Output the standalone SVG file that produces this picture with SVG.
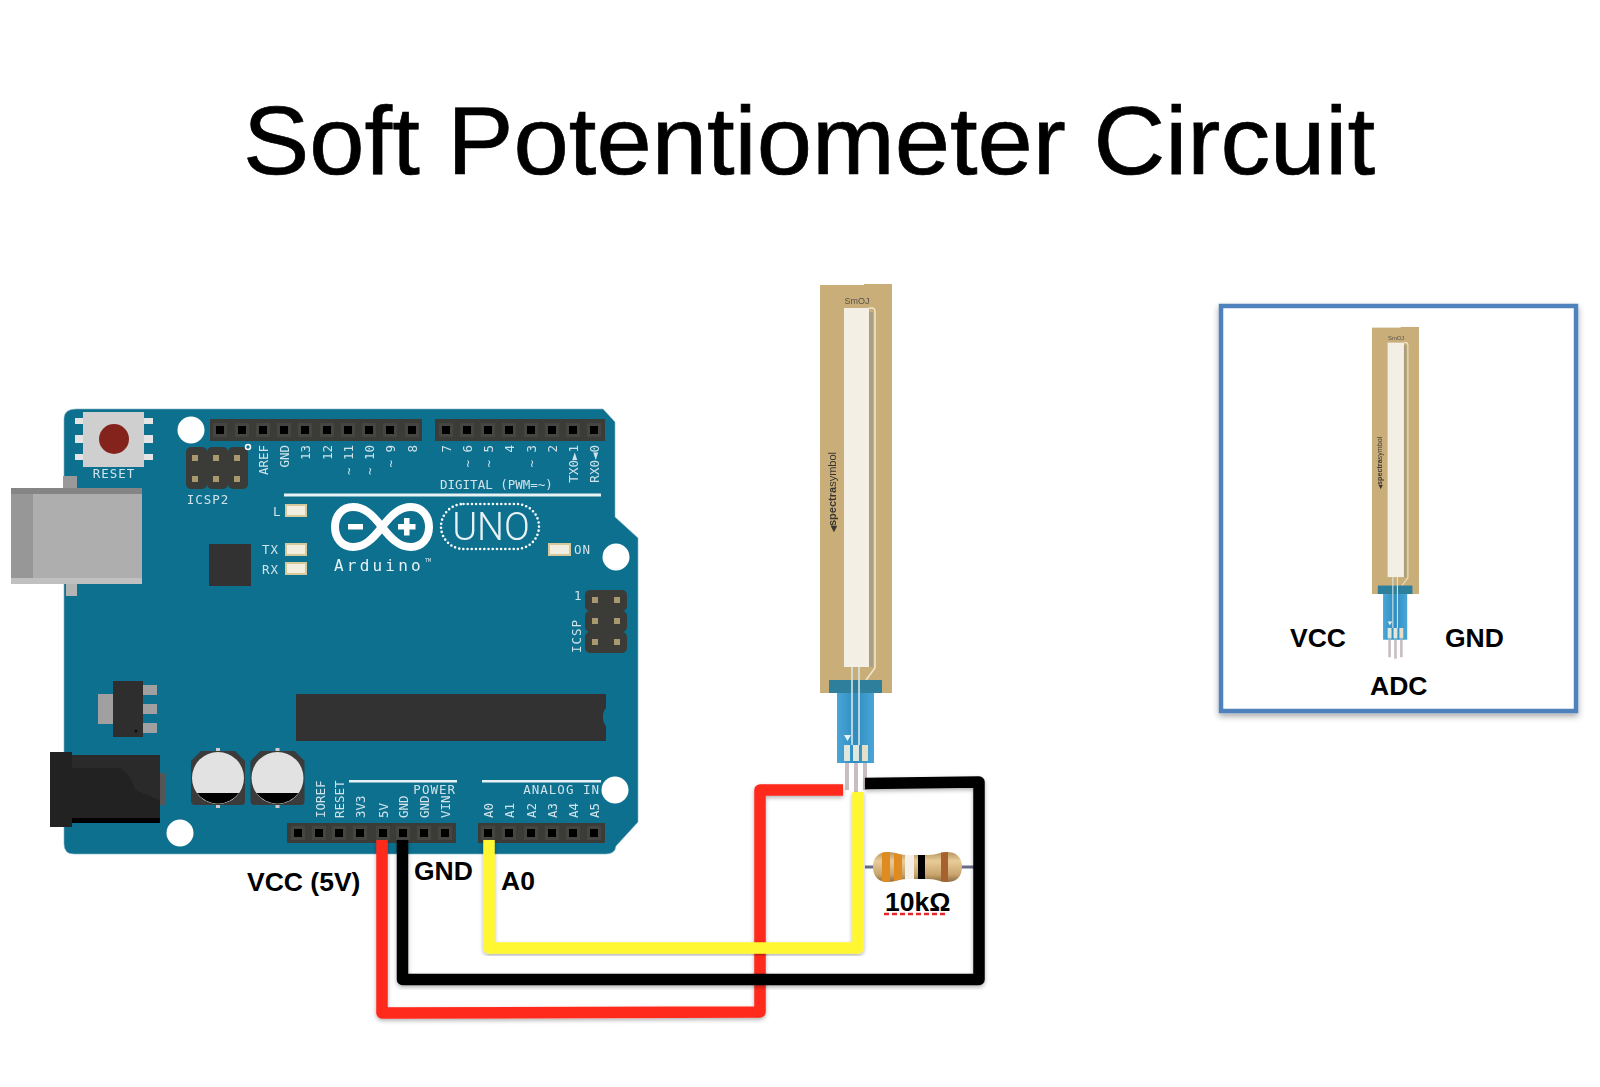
<svg xmlns="http://www.w3.org/2000/svg" xmlns:xlink="http://www.w3.org/1999/xlink" width="1600" height="1087" viewBox="0 0 1600 1087">
<style>
.sans{font-family:"Liberation Sans",Arial,sans-serif}
.lab{font-family:"Liberation Sans",Arial,sans-serif;font-weight:700;font-size:26.5px;fill:#000}
.silk{font-family:"DejaVu Sans Mono",monospace;font-size:12.5px;fill:#cfe3ea}
.hdr{fill:#3a3a38}
.wire{fill:none;stroke-width:11.5;stroke-linejoin:round;filter:url(#sh)}
.led{fill:#f2eee0;stroke:#d8c99a;stroke-width:2}
.leg{fill:#a0a0a0}
</style>
<defs>
<filter id="sh" x="-5%" y="-5%" width="110%" height="110%"><feDropShadow dx="0" dy="2" stdDeviation="2" flood-color="#000" flood-opacity=".3"/></filter>
<filter id="boxsh" x="-5%" y="-5%" width="110%" height="110%"><feDropShadow dx="0" dy="3" stdDeviation="3" flood-color="#000" flood-opacity=".35"/></filter>
<filter id="soft" x="-5%" y="-5%" width="110%" height="110%"><feGaussianBlur stdDeviation=".6"/></filter>
<filter id="soft2" x="-2%" y="-2%" width="104%" height="104%"><feGaussianBlur stdDeviation=".35"/></filter>
<linearGradient id="res" x1="0" y1="0" x2="0" y2="1"><stop offset="0" stop-color="#b8955f"/><stop offset=".3" stop-color="#e8cc98"/><stop offset=".75" stop-color="#c9a56e"/><stop offset="1" stop-color="#8c6c3e"/></linearGradient>
<linearGradient id="tail" x1="0" y1="0" x2="1" y2="0"><stop offset="0" stop-color="#4aa6d8"/><stop offset=".5" stop-color="#2f8cc0"/><stop offset="1" stop-color="#4aa6d8"/></linearGradient>
<clipPath id="resclip"><path d="M873 867 C873 856 880 852 888 852 C896 852 898 855 906 855 H929 C937 855 939 852 947 852 C955 852 962 856 962 867 C962 878 955 882 947 882 C939 882 937 879 929 879 H906 C898 879 896 882 888 882 C880 882 873 878 873 867 Z"/></clipPath>
<g id="pin"><rect x="-7" y="-7" width="14" height="14" fill="#454543"/><rect x="-4" y="-4" width="8" height="8" fill="#000"/></g>
<rect id="gold" x="-3" y="-3" width="6" height="6" fill="#a89a6e"/>
<g id="sensor" filter="url(#soft)">
<rect x="820" y="285" width="72" height="408" fill="#c9ae7a"/>
<rect x="864" y="284" width="28" height="3" fill="#c9ae7a"/>
<rect x="844" y="308" width="25" height="359" fill="#f3efe4"/>
<path d="M869 308 H872 Q875 308 875 312 V668 L866 680" fill="none" stroke="#efe6c8" stroke-width="1.6"/>
<rect x="869" y="312" width="4" height="355" fill="#a8a080"/>
<text x="857" y="304" text-anchor="middle" font-family="'Liberation Sans',sans-serif" font-size="9" fill="#55524a">SmOJ</text>
<text transform="translate(836 532) rotate(-90)" font-family="'Liberation Sans',sans-serif" font-size="11" font-weight="700" fill="#3a3630"><tspan font-size="8">◀</tspan>spectra<tspan font-weight="400">symbol</tspan></text>
<rect x="829" y="680" width="53" height="13" fill="#2f7f9b"/>
<rect x="837" y="693" width="37" height="70" fill="url(#tail)"/>
<path d="M852 667 V745 M859 667 V745" stroke="#d8e6e6" stroke-width="1.6" fill="none"/>
<path d="M844 735 H851 L847.500 741 Z" fill="#e8f2f6"/>
<rect x="844" y="745" width="6" height="16" fill="#dfe6dc"/><rect x="853" y="745" width="6" height="16" fill="#dfe6dc"/><rect x="862" y="745" width="6" height="16" fill="#e6dfc8"/>
<path d="M847 763 V790 M856 763 V792 M865 763 V790" stroke="#c8bec0" stroke-width="4" fill="none"/>
</g>
</defs>
<rect width="1600" height="1087" fill="#fff"/>
<g id="title"><text class="sans" x="243" y="174" font-size="97" fill="#000" stroke="#000" stroke-width=".7" textLength="1132" lengthAdjust="spacingAndGlyphs">Soft Potentiometer Circuit</text></g>

<g id="arduino" filter="url(#soft2)">
<path id="board" d="M76 409 H603 L615 422 V517 L638 538 V822 L616 846 Q615 854 606 854 H74 Q64 854 64 844 V419 Q64 409 76 409 Z" fill="#0f708f" stroke="#7fb2c4" stroke-width=".6"/>
<rect x="63" y="476" width="14" height="14" fill="#999"/>
<rect x="66" y="582" width="11" height="14" fill="#b4b4b4"/>
<g id="usb"><rect x="11" y="488" width="131" height="96" fill="#aeaeae"/><rect x="11" y="488" width="22" height="96" fill="#979797"/><rect x="11" y="488" width="131" height="6" fill="#858585"/><rect x="11" y="578" width="131" height="6" fill="#c0c0c0"/></g>
<g id="reset">
<rect x="75" y="418" width="78" height="6" fill="#e4e4e4"/><rect x="75" y="435" width="78" height="8" fill="#e4e4e4"/><rect x="75" y="454" width="78" height="6" fill="#e4e4e4"/>
<rect x="83" y="412" width="61" height="55" fill="#cfcfcf"/><circle cx="114" cy="439" r="15" fill="#84241f"/>
<text class="silk" x="114" y="478" text-anchor="middle" letter-spacing="1">RESET</text></g>
<g fill="#fff"><circle cx="191" cy="430" r="13.500"/><circle cx="616" cy="557" r="13.500"/><circle cx="180" cy="833" r="13.500"/><circle cx="615" cy="790" r="13.500"/></g>
<g id="header-top">
<rect class="hdr" x="210" y="419" width="212" height="22"/><rect class="hdr" x="435" y="419" width="170" height="22"/>
<use href="#pin" x="220" y="430"/><use href="#pin" x="242" y="430"/><use href="#pin" x="263" y="430"/><use href="#pin" x="284" y="430"/><use href="#pin" x="305" y="430"/><use href="#pin" x="327" y="430"/><use href="#pin" x="348" y="430"/><use href="#pin" x="369" y="430"/><use href="#pin" x="390" y="430"/><use href="#pin" x="412" y="430"/>
<use href="#pin" x="446" y="430"/><use href="#pin" x="467" y="430"/><use href="#pin" x="488" y="430"/><use href="#pin" x="509" y="430"/><use href="#pin" x="531" y="430"/><use href="#pin" x="552" y="430"/><use href="#pin" x="573" y="430"/><use href="#pin" x="594" y="430"/>
</g>
<g id="labels-top" class="silk" text-anchor="end">
<text transform="translate(268 445) rotate(-90)">AREF</text><text transform="translate(289 445) rotate(-90)">GND</text><text transform="translate(310 445) rotate(-90)">13</text><text transform="translate(332 445) rotate(-90)">12</text><text transform="translate(353 445) rotate(-90)">~ 11</text><text transform="translate(374 445) rotate(-90)">~ 10</text><text transform="translate(395 445) rotate(-90)">~ 9</text><text transform="translate(417 445) rotate(-90)">8</text>
<text transform="translate(451 445) rotate(-90)">7</text><text transform="translate(472 445) rotate(-90)">~ 6</text><text transform="translate(493 445) rotate(-90)">~ 5</text><text transform="translate(514 445) rotate(-90)">4</text><text transform="translate(536 445) rotate(-90)">~ 3</text><text transform="translate(557 445) rotate(-90)">2</text><text transform="translate(578 445) rotate(-90)">TX0►1</text><text transform="translate(599 445) rotate(-90)">RX0◄0</text>
</g>
<text class="silk" x="440" y="489" font-size="11.700" xml:space="preserve">DIGITAL (PWM=~)</text>
<rect x="284" y="493.500" width="317" height="3" fill="#e8f2f5"/>
<g id="icsp2">
<rect class="hdr" x="186" y="447" width="21" height="42" rx="5"/><rect class="hdr" x="207" y="447" width="21" height="42" rx="5"/><rect class="hdr" x="228" y="447" width="20" height="42" rx="5"/>
<use href="#gold" x="195" y="458"/><use href="#gold" x="216" y="458"/><use href="#gold" x="237" y="458"/><use href="#gold" x="195" y="479"/><use href="#gold" x="216" y="479"/><use href="#gold" x="237" y="479"/>
<circle cx="248" cy="447" r="2.500" fill="#0f708f" stroke="#fff" stroke-width="1.500"/>
<text class="silk" x="208" y="504" text-anchor="middle" letter-spacing="1">ICSP2</text></g>
<g id="leds">
<rect class="led" x="286" y="505" width="20" height="11"/><rect class="led" x="286" y="544" width="20" height="11"/><rect class="led" x="286" y="563" width="20" height="11"/><rect class="led" x="549" y="544" width="21" height="11"/>
<text class="silk" x="273" y="516">L</text><text class="silk" x="262" y="554" letter-spacing="1">TX</text><text class="silk" x="262" y="574" letter-spacing="1">RX</text><text class="silk" x="574" y="554" letter-spacing="1">ON</text></g>
<rect x="209" y="544" width="42" height="42" fill="#333"/>
<g id="logo">
<path d="M382 527 C372 514 364 507 353 507 C342 507 335 516 335 527 C335 538 342 547 353 547 C364 547 372 540 382 527 C392 514 400 507 411 507 C422 507 429 516 429 527 C429 538 422 547 411 547 C400 547 392 540 382 527 Z" fill="none" stroke="#fff" stroke-width="8"/>
<rect x="348" y="524" width="15" height="5.500" fill="#fff"/><path d="M398 524 H404 V518 H409.500 V524 H415.500 V529.500 H409.500 V535.500 H404 V529.500 H398 Z" fill="#fff"/>
<rect x="441" y="504" width="98" height="45" rx="22.500" fill="none" stroke="#fff" stroke-width="2.600" stroke-dasharray="0 4.200" stroke-linecap="round"/>
<text x="491" y="540" text-anchor="middle" font-family="Roboto,'Liberation Sans',sans-serif" font-weight="300" font-size="38" fill="#e8f2f5">UNO</text>
<text x="334" y="571" font-family="'DejaVu Sans Mono',monospace" font-size="16" fill="#e8f2f5" letter-spacing="3.200">Arduino</text>
<text x="425" y="562" font-family="'DejaVu Sans Mono',monospace" font-size="5" fill="#e8f2f5">TM</text></g>
<g id="icsp">
<rect class="hdr" x="585" y="590" width="42" height="21" rx="5"/><rect class="hdr" x="585" y="611" width="42" height="21" rx="5"/><rect class="hdr" x="585" y="632" width="42" height="21" rx="5"/>
<use href="#gold" x="595" y="600"/><use href="#gold" x="617" y="600"/><use href="#gold" x="595" y="621"/><use href="#gold" x="617" y="621"/><use href="#gold" x="595" y="642"/><use href="#gold" x="617" y="642"/>
<text class="silk" x="574" y="600">1</text><text class="silk" transform="translate(581 653) rotate(-90)" letter-spacing="1">ICSP</text></g>
<g id="regulator"><rect class="leg" x="98" y="694" width="16" height="30"/><rect class="leg" x="142" y="685" width="15" height="10"/><rect class="leg" x="142" y="704" width="15" height="10"/><rect class="leg" x="142" y="723" width="15" height="10"/><rect x="113" y="681" width="30" height="56" fill="#2f2f2d"/><circle cx="136" cy="731" r="1.500" fill="#111"/></g>
<g id="jack"><rect x="160" y="773" width="5" height="32" fill="#555"/><rect x="72" y="755" width="88" height="68" fill="#2b2b2b"/><path d="M72 768 H120 Q132 775 135 790 L160 800 V818 H72 Z" fill="#232323"/><rect x="72" y="818" width="88" height="5" fill="#050505"/><rect x="50" y="752" width="22" height="75" fill="#202020"/></g>
<g id="caps">
<g id="c1"><rect x="216" y="748" width="4" height="60" fill="#ccc"/><path d="M201 751 H235 L245 761 V801 Q245 805 241 805 H195 Q191 805 191 801 V761 Z" fill="#3a3a3a"/><circle cx="218" cy="778" r="26" fill="#e2e2e2"/><path d="M197 793 H239 A26 26 0 0 1 197 793 Z" fill="#000"/></g>
<use href="#c1" x="59.500"/></g>
<path id="mcu" d="M296 694 H606 V708 Q603 711 603 717 Q603 723 606 726 V741 H296 Z" fill="#333"/>
<g id="header-bottom">
<rect class="hdr" x="287" y="823" width="169" height="20"/><rect class="hdr" x="478" y="823" width="127" height="20"/>
<use href="#pin" x="298" y="833"/><use href="#pin" x="319" y="833"/><use href="#pin" x="339" y="833"/><use href="#pin" x="360" y="833"/><use href="#pin" x="383" y="833"/><use href="#pin" x="403" y="833"/><use href="#pin" x="424" y="833"/><use href="#pin" x="445" y="833"/>
<use href="#pin" x="488" y="833"/><use href="#pin" x="509" y="833"/><use href="#pin" x="531" y="833"/><use href="#pin" x="552" y="833"/><use href="#pin" x="573" y="833"/><use href="#pin" x="594" y="833"/>
</g>
<g id="labels-bottom" class="silk">
<text transform="translate(325 818) rotate(-90)">IOREF</text><text transform="translate(344 818) rotate(-90)">RESET</text><text transform="translate(365 818) rotate(-90)">3V3</text><text transform="translate(388 818) rotate(-90)">5V</text><text transform="translate(408 818) rotate(-90)">GND</text><text transform="translate(429 818) rotate(-90)">GND</text><text transform="translate(450 818) rotate(-90)">VIN</text>
<text transform="translate(493 818) rotate(-90)">A0</text><text transform="translate(514 818) rotate(-90)">A1</text><text transform="translate(536 818) rotate(-90)">A2</text><text transform="translate(557 818) rotate(-90)">A3</text><text transform="translate(578 818) rotate(-90)">A4</text><text transform="translate(599 818) rotate(-90)">A5</text>
<text x="456" y="794" text-anchor="end" letter-spacing="1">POWER</text><text x="600" y="794" text-anchor="end" letter-spacing="1" xml:space="preserve">ANALOG IN</text>
</g>
<rect x="349" y="780" width="108" height="2.500" fill="#e8f2f5"/><rect x="482" y="780" width="119" height="2.500" fill="#e8f2f5"/>
</g>

<g id="soft-pot"><use href="#sensor"/></g>

<g id="resistor">
<path d="M865 867 H975" stroke="#6a6a88" stroke-width="3"/>
<g clip-path="url(#resclip)">
<rect x="873" y="852" width="89" height="30" fill="url(#res)"/>
<rect x="882" y="852" width="8" height="30" fill="#e08a22"/><rect x="894" y="852" width="8" height="30" fill="#e08a22"/><rect x="905" y="852" width="9" height="30" fill="#f4f0e8"/><rect x="918" y="852" width="7" height="30" fill="#000"/><rect x="941" y="852" width="7" height="30" fill="#a8602e"/>
</g>
</g>

<g id="connectors">
<path class="wire" stroke="#ff2a1c" d="M382 840 V1013 L760 1012 V790 H843"/>
<path class="wire" stroke="#000" d="M402.500 840 V979.500 H979 V782 L865 783.500"/>
<path class="wire" stroke="#fff730" d="M489 840 V948 H858 V792"/>
</g>

<g id="labels">
<text class="lab" x="247" y="891" font-size="27.500">VCC (5V)</text>
<text class="lab" x="414" y="880">GND</text>
<text class="lab" x="501" y="890">A0</text>
<text class="lab" x="885" y="911">10kΩ</text>
<path d="M884 914 H946" stroke="#e8262a" stroke-width="2.500" stroke-dasharray="5 3"/>
</g>

<g id="inset">
<rect x="1221" y="306" width="355" height="405" fill="#fff" stroke="#4f81bd" stroke-width="4.500" filter="url(#boxsh)"/>
<use href="#sensor" transform="translate(836.500 141.500) scale(.653)"/>
<text class="lab" x="1290" y="647">VCC</text>
<text class="lab" x="1445" y="647">GND</text>
<text class="lab" x="1370" y="695">ADC</text>
</g>
</svg>
